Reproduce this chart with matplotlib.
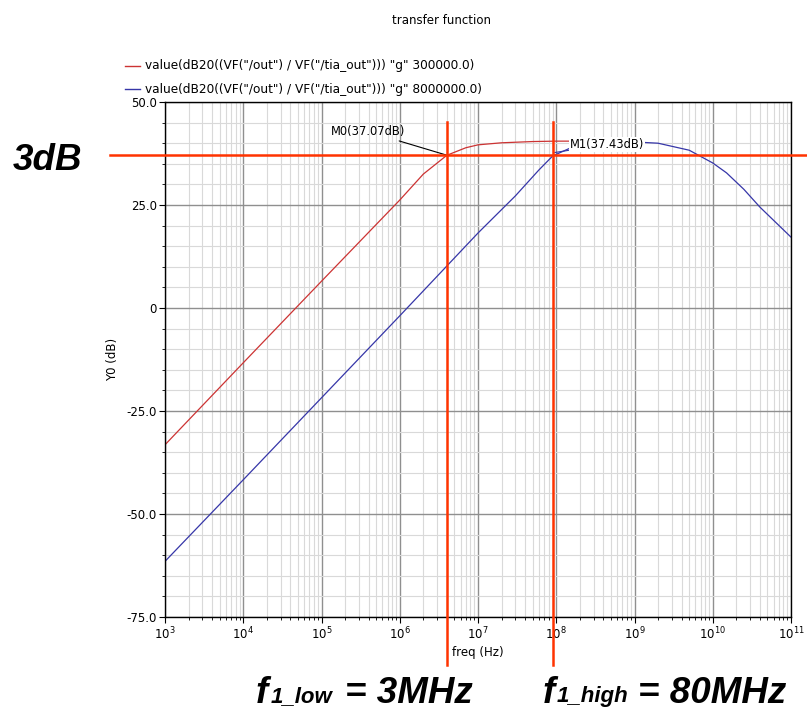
#!/usr/bin/env python3
import numpy as np
import matplotlib
matplotlib.use("Agg")
import matplotlib.pyplot as plt
import matplotlib.ticker as mticker
import matplotlib.transforms as mtransforms

# curve values (freq in Hz, gain in dB)
red_freq = [1e3, 1e4, 1e5, 1e6, 2e6, 4e6, 7e6, 1e7, 2e7, 5e7, 1e8, 1.5e8]
red_db = [-33.2, -13.3, 6.5, 26.2, 32.5, 37.07, 38.9, 39.6, 40.1, 40.4, 40.5, 40.5]

blue_freq = [1e3, 1e4, 1e5, 1e6, 1e7, 3e7, 6e7, 9e7, 1.5e8, 3e8, 1e9, 2e9,
             5e9, 1e10, 1.5e10, 2.5e10, 4e10, 1e11]
blue_db = [-61.5, -41.7, -21.8, -1.9, 18.2, 27.2, 33.5, 36.9, 38.8, 39.8, 40.3,
           40.0, 38.3, 35.2, 32.8, 28.8, 24.5, 17.2]

legend_labels = [
    'value(dB20((VF("/out") / VF("/tia_out"))) "g" 300000.0)',
    'value(dB20((VF("/out") / VF("/tia_out"))) "g" 8000000.0)',
]

y_ticks = [-75, -50, -25, 0, 25, 50]
y_ticklabels = ["-75.0", "-50.0", "-25.0", "0", "25.0", "50.0"]

m0_freq, m0_db = 4.02e6, 37.07
m1_freq, m1_db = 9.08e7, 37.43
level_3db = 37.07

RED = "#cc3333"
BLUE = "#3636a8"
MARK = "#ff3300"

W, H = 807, 710

plt.rcParams.update({
    "font.family": "DejaVu Sans",
    "font.size": 8,
})

fig = plt.figure(figsize=(W / 100, H / 100), dpi=100)
ax = fig.add_axes([165 / W, 1 - 617 / H, 626 / W, 515 / H])

ax.plot(red_freq, red_db, color=RED, lw=0.9)
ax.plot(blue_freq, blue_db, color=BLUE, lw=0.9)

ax.set_xscale("log")
ax.set_xlim(1e3, 1e11)
ax.set_ylim(-75, 50)
ax.set_yticks(y_ticks)
ax.set_yticklabels(y_ticklabels)
ax.yaxis.set_minor_locator(mticker.MultipleLocator(5))
ax.xaxis.set_major_locator(mticker.LogLocator(base=10, numticks=20))
ax.xaxis.set_minor_locator(mticker.LogLocator(base=10, subs=np.arange(2, 10), numticks=20))
ax.xaxis.set_minor_formatter(mticker.NullFormatter())

ax.grid(True, which="major", color="#8f8f8f", lw=1.0)
ax.grid(True, which="minor", color="#d9d9d9", lw=0.8)
ax.set_axisbelow(True)
ax.tick_params(which="major", length=4, width=0.8, labelsize=8.5, pad=2)
ax.tick_params(which="minor", length=2, width=0.6)
for s in ax.spines.values():
    s.set_linewidth(1.0)

ax.set_xlabel("freq (Hz)", fontsize=8.5, labelpad=3)
ax.set_ylabel("Y0 (dB)", fontsize=8.5, labelpad=5)

# legend drawn as a header above the axes
for i, (lab, col) in enumerate(zip(legend_labels, [RED, BLUE])):
    yy = 1 - (66 + 23 * i) / H
    fig.add_artist(plt.Line2D([125 / W, 140 / W], [yy, yy], color=col, lw=1.0))
    fig.text(145 / W, yy, lab, fontsize=8.7, va="center", ha="left")

fig.text(441 / W, 1 - 20 / H, "transfer function", fontsize=8.5, ha="center", va="center")

# red marker lines for the -3dB points
tx = mtransforms.blended_transform_factory(ax.transData, ax.transAxes)
ty = mtransforms.blended_transform_factory(ax.transAxes, ax.transData)
for f in [m0_freq, m1_freq]:
    ax.plot([f, f], [0.961, -0.093], color=MARK, lw=1.8, transform=tx, clip_on=False, zorder=5)
ax.plot([-0.088, 1.03], [level_3db, level_3db], color=MARK, lw=1.8, transform=ty,
        clip_on=False, zorder=5)

ax.annotate("M0(%.2fdB)" % m0_db, xy=(m0_freq, m0_db), xytext=(-30, 17),
            textcoords="offset points", ha="right", va="center", fontsize=8.3,
            arrowprops=dict(arrowstyle="-", color="black", lw=0.8,
                            shrinkA=0, shrinkB=0))
ax.annotate("M1(%.2fdB)" % m1_db, xy=(m1_freq * 1.05, m1_db + 0.3), xytext=(11, 6),
            textcoords="offset points", ha="left", va="center", fontsize=8.3,
            bbox=dict(boxstyle="square,pad=0.1", fc="white", ec="none"),
            arrowprops=dict(arrowstyle="-", color=BLUE, lw=0.8,
                            shrinkA=0, shrinkB=0))

big = dict(fontfamily="Liberation Sans", fontweight="bold", fontstyle="italic",
           ha="left", va="baseline")
fig.text(13 / W, 1 - 170 / H, "3dB", fontsize=26.5, **big)

# bottom labels: main letter, subscript, value
for x_f, x_sub, x_val, sub, val in [(256, 271, 345, "1_low", "= 3MHz"),
                                    (543, 557, 638, "1_high", "= 80MHz")]:
    fig.text(x_f / W, 1 - 703 / H, "f", fontsize=26.5, **big)
    fig.text(x_sub / W, 1 - 702 / H, sub, fontsize=16, **big)
    fig.text(x_val / W, 1 - 703 / H, val, fontsize=26.5, **big)

fig.savefig("out.png", dpi=100)
